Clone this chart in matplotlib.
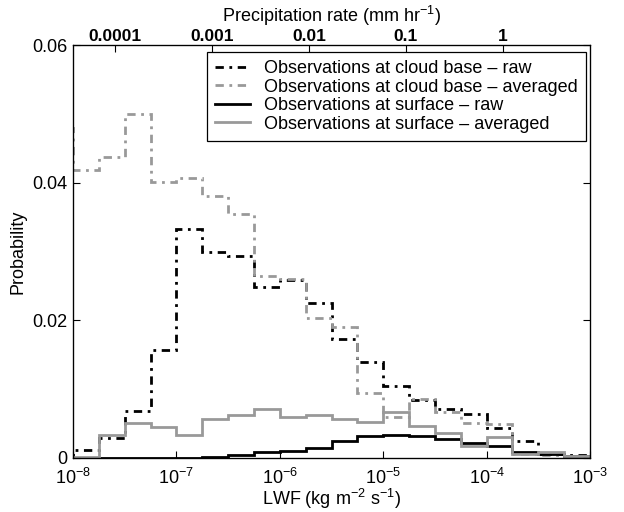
import numpy as np
import matplotlib
matplotlib.use("Agg")
import matplotlib.pyplot as plt

plt.rcParams['font.family'] = ['Liberation Sans', 'DejaVu Sans']
plt.rcParams['mathtext.fontset'] = 'custom'
plt.rcParams['mathtext.rm'] = 'Liberation Sans'
plt.rcParams['mathtext.it'] = 'Liberation Sans:italic'
plt.rcParams['font.size'] = 13

# bin edges (log10 of LWF), quarter-decade bins; first bin lies left of the x-limit
edge_exp = np.arange(-8.25, -2.99, 0.25)

cloud_raw = [0.0, 0.0012, 0.0029, 0.0068, 0.0157, 0.0333, 0.0299, 0.0294, 0.0248, 0.0259,
             0.0225, 0.0173, 0.0140, 0.0104, 0.0084, 0.0071, 0.0064, 0.0043, 0.0024,
             0.0006, 0.0004]
cloud_avg = [0.0480, 0.0419, 0.0438, 0.0500, 0.0401, 0.0407, 0.0381, 0.0355, 0.0265, 0.0260,
             0.0203, 0.0190, 0.0094, 0.0059, 0.0085, 0.0067, 0.0051, 0.0049, 0.0006,
             0.0004, 0.0002]
surf_raw = [0.0, 0.0, 0.0, 0.0, 0.0, 0.0, 0.0001, 0.0004, 0.0009, 0.0010,
            0.0014, 0.0024, 0.0032, 0.0034, 0.0032, 0.0027, 0.0022, 0.0018, 0.0009,
            0.0006, 0.0003]
surf_avg = [0.0, 0.0002, 0.0033, 0.0051, 0.0045, 0.0034, 0.0056, 0.0063, 0.0071, 0.0059,
            0.0062, 0.0056, 0.0052, 0.0067, 0.0046, 0.0036, 0.0017, 0.0031, 0.0006,
            0.0009, 0.0003]

labels = ["Observations at cloud base \u2013 raw",
          "Observations at cloud base \u2013 averaged",
          "Observations at surface \u2013 raw",
          "Observations at surface \u2013 averaged"]

precip_ticks = [0.0001, 0.001, 0.01, 0.1, 1]
precip_labels = ["0.0001", "0.001", "0.01", "0.1", "1"]
yticks = [0, 0.02, 0.04, 0.06]
yticklabels = ["0", "0.02", "0.04", "0.06"]

gray = '#999999'
edges = 10.0 ** edge_exp

fig = plt.figure(figsize=(6.24, 5.12), dpi=100)
ax = fig.add_axes([0.117, 0.1055, 0.8285, 0.8065])
dd = (0, (3, 2, 1, 2))
ax.stairs(cloud_raw, edges, baseline=None, color='k', lw=2, linestyle=dd, label=labels[0])
ax.stairs(cloud_avg, edges, baseline=None, color=gray, lw=2, linestyle=dd, label=labels[1])
ax.stairs(surf_raw, edges, baseline=None, color='k', lw=2, label=labels[2])
ax.stairs(surf_avg, edges, baseline=None, color=gray, lw=2, label=labels[3])

ax.set_xscale('log')
ax.set_xlim(1e-8, 1e-3)
ax.set_ylim(0, 0.06)
ax.set_yticks(yticks)
ax.set_yticklabels(yticklabels)
ax.set_xticks([1e-8, 1e-7, 1e-6, 1e-5, 1e-4, 1e-3])
ax.xaxis.set_minor_locator(matplotlib.ticker.NullLocator())
ax.tick_params(direction='in', length=5, width=0.8, right=True, top=False, labelsize=13)
ax.tick_params(axis='x', pad=7)
ax.tick_params(axis='y', pad=4)
ax.set_xlabel('LWF (kg m$^{-2}$ s$^{-1}$)', fontsize=13, labelpad=-1)
ax.set_ylabel('Probability', fontsize=13, labelpad=4)
for s in ax.spines.values():
    s.set_linewidth(0.9)

# top axis: precipitation rate
def p_to_lwf(p):
    return 10.0 ** (-7.594 + 0.938 * (np.log10(p) + 4))

ax2 = ax.twiny()
ax2.set_xscale('log')
ax2.set_xlim(1e-8, 1e-3)
ax2.set_xticks([p_to_lwf(p) for p in precip_ticks])
ax2.set_xticklabels(precip_labels, fontweight='bold')
ax2.xaxis.set_minor_locator(matplotlib.ticker.NullLocator())
ax2.tick_params(direction='in', length=5, width=0.8, labelsize=12.5, pad=1)
ax2.set_xlabel('Precipitation rate (mm hr$^{-1}$)', fontsize=13, labelpad=5)

leg = ax.legend(loc='upper right', bbox_to_anchor=(0.9923, 0.983), borderaxespad=0,
                handlelength=1.9, labelspacing=0.08, borderpad=0.45,
                handletextpad=0.8, fancybox=False, edgecolor='k', framealpha=1,
                fontsize=13)
leg.get_frame().set_linewidth(0.9)

fig.savefig('out.png', dpi=100)
